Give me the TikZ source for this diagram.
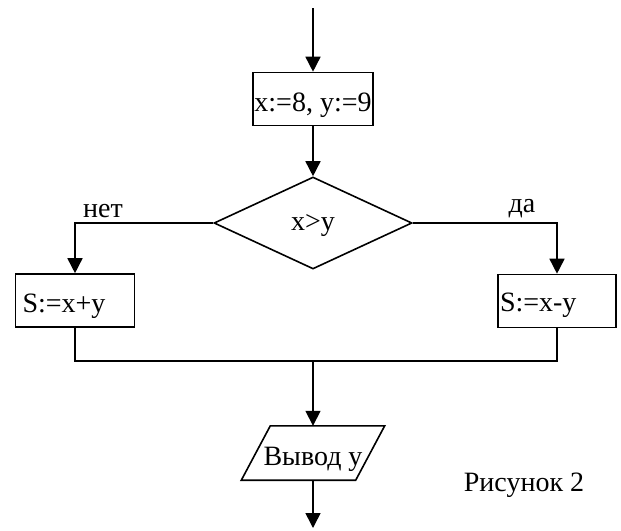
\documentclass[tikz,border=0pt]{standalone}
\usepackage{fontspec}
\setmainfont{Liberation Serif}
\usetikzlibrary{arrows.meta,shapes.geometric,calc}
\begin{document}
\begin{tikzpicture}[x=1pt,y=-1pt,
  line/.style={line width=1.6pt},
  arr/.style={line, -{Triangle[length=15pt,width=15pt]}},
  box/.style={draw, line width=1.6pt, minimum height=53pt, inner sep=0pt, text depth=0pt},
  lbl/.style={inner sep=0pt, anchor=base},
  every node/.style={font=\fontsize{28}{33}\selectfont}]
\useasboundingbox (0,0) rectangle (621,530);
\coordinate (start) at (313,8);
\node[box, minimum width=120pt, text height=24pt] (init) at (313,99) {x:=8, y:=9};
\node[draw, line width=1.6pt, diamond, aspect=2.15, minimum width=198pt, minimum height=92pt, inner sep=0pt, text depth=0pt, text height=14pt] (cond) at (313,223) {x>y};
\node[box, text width=105pt, inner xsep=7pt, align=left, text height=23pt] (left) at (75,300.5) {S:=x+y};
\node[box, text width=114pt, inner xsep=2pt, align=left, text height=20pt] (right) at (557,301) {S:=x-y};
\node[lbl] (no) at (103,217) {нет};
\node[lbl] (yes) at (522,212) {да};
\coordinate (jl) at (75,361);
\coordinate (jr) at (557,361);
\coordinate (jm) at (313,361);
\node[minimum width=114pt, minimum height=54pt, inner sep=0pt, text depth=0pt, text height=24pt] (out) at (313,453) {Вывод у};
\draw[line] ($(out.south west)+(-14.5,0)$) -- ($(out.south east)+(-14.5,0)$) -- ($(out.north east)+(14.5,0)$) -- ($(out.north west)+(14.5,0)$) -- cycle;
\coordinate (end) at (313,528);
\node[lbl] (fig) at (524,491) {Рисунок 2};
\draw[arr] (start) -- (init);
\draw[arr] (init) -- (cond);
\draw[arr] (cond.west) -| (left.north);
\draw[arr] (cond.east) -| (right.north);
\draw[line] (left.south) -- (jl) -- (jr) -- (right.south);
\draw[arr] (jm) -- (out.north);
\draw[arr] (out.south) -- (end);
\end{tikzpicture}
\end{document}
